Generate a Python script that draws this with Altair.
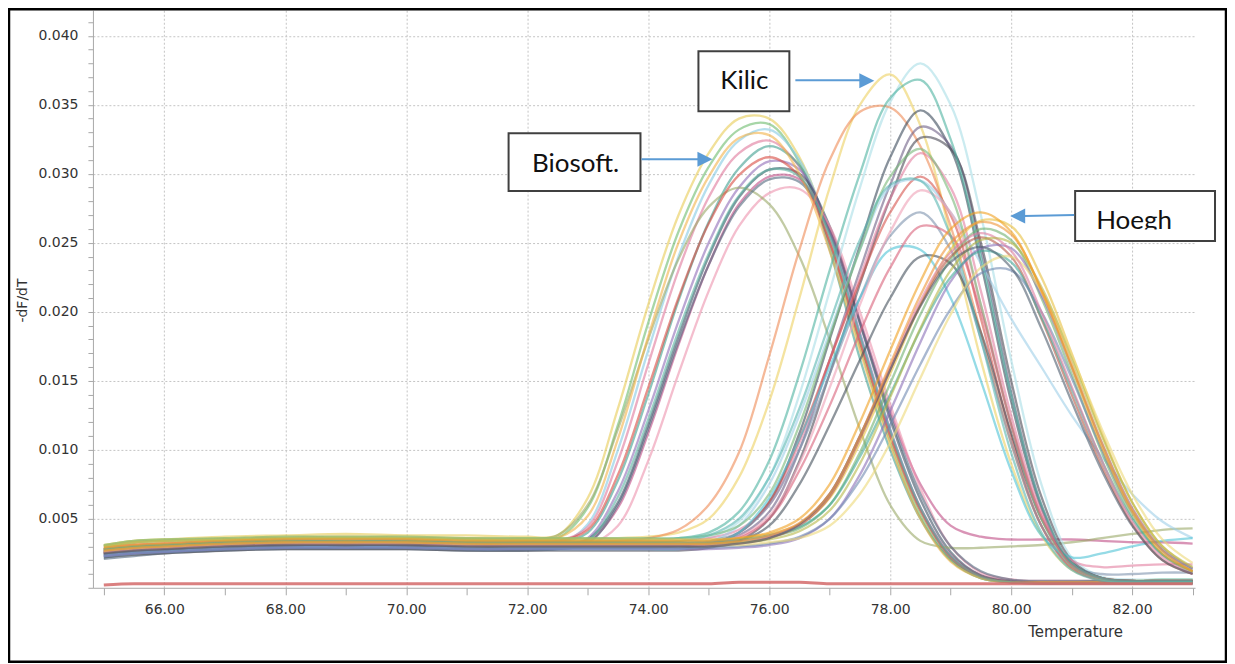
import altair as alt
import pandas as pd

# ---------------- data ----------------
temps = [65.0, 65.5, 66.0, 67.0, 68.0, 69.0, 70.0, 71.0, 72.0,
         72.5, 73.0, 73.5, 74.0, 74.5, 75.0, 75.5, 76.0, 76.5, 77.0, 77.5, 78.0, 78.5, 79.0, 79.5, 80.0,
         80.5, 81.0, 81.5, 82.0, 82.5, 83.0]

x_ticks = [65, 66, 67, 68, 69, 70, 71, 72, 73, 74, 75, 76, 77, 78, 79, 80, 81, 82, 83]
y_ticks = [0.000, 0.001, 0.002, 0.003, 0.004, 0.005, 0.006, 0.007, 0.008, 0.009,
           0.010, 0.011, 0.012, 0.013, 0.014, 0.015, 0.016, 0.017, 0.018, 0.019,
           0.020, 0.021, 0.022, 0.023, 0.024, 0.025, 0.026, 0.027, 0.028, 0.029,
           0.030, 0.031, 0.032, 0.033, 0.034, 0.035, 0.036, 0.037, 0.038, 0.039,
           0.040, 0.041]

# Biosoft. group
biosoft_1 = [0.0031, 0.0034, 0.0035, 0.0037, 0.0038, 0.0039, 0.0038, 0.0038, 0.0037,
             0.0038, 0.0065, 0.0130, 0.0205, 0.0270, 0.0315, 0.0340, 0.0340, 0.0312, 0.0255, 0.0180, 0.0110, 0.0055, 0.0022, 0.0008, 0.0005,
             0.0004, 0.0004, 0.0004, 0.0004, 0.0004, 0.0004]
biosoft_2 = [0.0028, 0.0031, 0.0032, 0.0034, 0.0035, 0.0036, 0.0035, 0.0035, 0.0034,
             0.0036, 0.0058, 0.0118, 0.0192, 0.0258, 0.0305, 0.0332, 0.0336, 0.0308, 0.0250, 0.0175, 0.0106, 0.0052, 0.0020, 0.0007, 0.0004,
             0.0004, 0.0004, 0.0005, 0.0005, 0.0006, 0.0006]
biosoft_3 = [0.0022, 0.0025, 0.0027, 0.0029, 0.0031, 0.0031, 0.0031, 0.0030, 0.0030,
             0.0031, 0.0046, 0.0100, 0.0172, 0.0240, 0.0292, 0.0324, 0.0332, 0.0310, 0.0256, 0.0182, 0.0112, 0.0056, 0.0022, 0.0008, 0.0005,
             0.0004, 0.0004, 0.0004, 0.0004, 0.0004, 0.0004]
biosoft_4 = [0.0027, 0.0030, 0.0031, 0.0033, 0.0034, 0.0034, 0.0034, 0.0033, 0.0033,
             0.0034, 0.0044, 0.0092, 0.0162, 0.0230, 0.0283, 0.0315, 0.0324, 0.0305, 0.0252, 0.0180, 0.0112, 0.0058, 0.0024, 0.0009, 0.0005,
             0.0004, 0.0004, 0.0004, 0.0004, 0.0004, 0.0004]
biosoft_5 = [0.0027, 0.0029, 0.0030, 0.0032, 0.0033, 0.0033, 0.0033, 0.0032, 0.0032,
             0.0033, 0.0040, 0.0078, 0.0140, 0.0208, 0.0265, 0.0304, 0.0320, 0.0306, 0.0245, 0.0166, 0.0100, 0.0050, 0.0020, 0.0007, 0.0004,
             0.0003, 0.0003, 0.0003, 0.0003, 0.0003, 0.0003]
biosoft_6 = [0.0024, 0.0026, 0.0027, 0.0029, 0.0030, 0.0030, 0.0030, 0.0029, 0.0029,
             0.0030, 0.0036, 0.0070, 0.0128, 0.0193, 0.0250, 0.0290, 0.0309, 0.0303, 0.0258, 0.0185, 0.0115, 0.0058, 0.0023, 0.0008, 0.0004,
             0.0003, 0.0003, 0.0003, 0.0003, 0.0003, 0.0003]
biosoft_7 = [0.0026, 0.0028, 0.0029, 0.0031, 0.0032, 0.0032, 0.0032, 0.0031, 0.0031,
             0.0032, 0.0035, 0.0062, 0.0118, 0.0182, 0.0240, 0.0283, 0.0303, 0.0300, 0.0262, 0.0192, 0.0122, 0.0064, 0.0026, 0.0009, 0.0005,
             0.0004, 0.0004, 0.0004, 0.0004, 0.0004, 0.0004]
biosoft_8 = [0.0023, 0.0025, 0.0026, 0.0028, 0.0029, 0.0029, 0.0029, 0.0028, 0.0028,
             0.0029, 0.0033, 0.0058, 0.0112, 0.0176, 0.0234, 0.0278, 0.0298, 0.0296, 0.0260, 0.0194, 0.0128, 0.0075, 0.0045, 0.0037, 0.0035,
             0.0035, 0.0035, 0.0034, 0.0033, 0.0033, 0.0032]
biosoft_9 = [0.0025, 0.0027, 0.0028, 0.0030, 0.0031, 0.0031, 0.0031, 0.0030, 0.0030,
             0.0030, 0.0031, 0.0045, 0.0092, 0.0155, 0.0215, 0.0262, 0.0286, 0.0289, 0.0262, 0.0200, 0.0133, 0.0072, 0.0030, 0.0011, 0.0006,
             0.0005, 0.0005, 0.0005, 0.0005, 0.0005, 0.0005]
biosoft_10 = [0.0030, 0.0033, 0.0034, 0.0035, 0.0036, 0.0036, 0.0036, 0.0035, 0.0035,
              0.0038, 0.0060, 0.0115, 0.0180, 0.0238, 0.0276, 0.0290, 0.0278, 0.0240, 0.0180, 0.0115, 0.0060, 0.0034, 0.0029, 0.0029, 0.0030,
              0.0031, 0.0033, 0.0036, 0.0039, 0.0042, 0.0043]
biosoft_11 = [0.0028, 0.0030, 0.0031, 0.0033, 0.0034, 0.0034, 0.0034, 0.0033, 0.0033,
              0.0034, 0.0042, 0.0082, 0.0145, 0.0210, 0.0264, 0.0299, 0.0312, 0.0298, 0.0250, 0.0178, 0.0110, 0.0056, 0.0022, 0.0008, 0.0004,
              0.0004, 0.0004, 0.0004, 0.0004, 0.0004, 0.0004]
biosoft_12 = [0.0021, 0.0023, 0.0025, 0.0027, 0.0028, 0.0028, 0.0028, 0.0027, 0.0027,
              0.0028, 0.0032, 0.0060, 0.0115, 0.0178, 0.0234, 0.0276, 0.0296, 0.0294, 0.0258, 0.0192, 0.0125, 0.0068, 0.0030, 0.0012, 0.0006,
              0.0005, 0.0005, 0.0005, 0.0005, 0.0005, 0.0005]
biosoft_13 = [0.0029, 0.0032, 0.0033, 0.0035, 0.0036, 0.0037, 0.0036, 0.0036, 0.0035,
              0.0036, 0.0052, 0.0108, 0.0182, 0.0250, 0.0298, 0.0326, 0.0328, 0.0300, 0.0244, 0.0172, 0.0104, 0.0050, 0.0019, 0.0007, 0.0004,
              0.0004, 0.0004, 0.0004, 0.0004, 0.0004, 0.0004]
biosoft_14 = [0.0025, 0.0027, 0.0028, 0.0030, 0.0031, 0.0031, 0.0031, 0.0030, 0.0030,
              0.0030, 0.0034, 0.0066, 0.0122, 0.0186, 0.0242, 0.0284, 0.0303, 0.0298, 0.0255, 0.0183, 0.0114, 0.0058, 0.0023, 0.0008, 0.0004,
              0.0003, 0.0003, 0.0003, 0.0003, 0.0003, 0.0003]

# Kilic group
kilic_1 = [0.0026, 0.0029, 0.0030, 0.0032, 0.0033, 0.0033, 0.0033, 0.0032, 0.0032,
           0.0032, 0.0032, 0.0032, 0.0032, 0.0033, 0.0036, 0.0048, 0.0080, 0.0140, 0.0215, 0.0290, 0.0352, 0.0380, 0.0350, 0.0270, 0.0165,
           0.0075, 0.0022, 0.0008, 0.0006, 0.0006, 0.0006]
kilic_2 = [0.0030, 0.0033, 0.0034, 0.0035, 0.0036, 0.0036, 0.0036, 0.0035, 0.0035,
           0.0035, 0.0035, 0.0035, 0.0035, 0.0036, 0.0040, 0.0055, 0.0092, 0.0155, 0.0230, 0.0300, 0.0355, 0.0368, 0.0325, 0.0240, 0.0140,
           0.0060, 0.0018, 0.0007, 0.0005, 0.0005, 0.0005]
kilic_3 = [0.0031, 0.0034, 0.0035, 0.0036, 0.0037, 0.0037, 0.0037, 0.0036, 0.0036,
           0.0036, 0.0036, 0.0036, 0.0037, 0.0040, 0.0050, 0.0080, 0.0135, 0.0210, 0.0290, 0.0350, 0.0372, 0.0335, 0.0255, 0.0165, 0.0090,
           0.0038, 0.0013, 0.0006, 0.0005, 0.0005, 0.0005]
kilic_4 = [0.0028, 0.0031, 0.0032, 0.0033, 0.0034, 0.0034, 0.0034, 0.0033, 0.0033,
           0.0033, 0.0033, 0.0034, 0.0036, 0.0042, 0.0060, 0.0098, 0.0168, 0.0245, 0.0310, 0.0345, 0.0348, 0.0320, 0.0262, 0.0185, 0.0105,
           0.0045, 0.0015, 0.0007, 0.0005, 0.0005, 0.0005]
kilic_5 = [0.0024, 0.0026, 0.0027, 0.0029, 0.0030, 0.0030, 0.0030, 0.0029, 0.0029,
           0.0029, 0.0029, 0.0029, 0.0029, 0.0030, 0.0032, 0.0040, 0.0062, 0.0112, 0.0180, 0.0248, 0.0312, 0.0346, 0.0318, 0.0235, 0.0135,
           0.0058, 0.0016, 0.0006, 0.0004, 0.0004, 0.0004]
kilic_6 = [0.0026, 0.0028, 0.0029, 0.0031, 0.0032, 0.0032, 0.0032, 0.0031, 0.0031,
           0.0031, 0.0031, 0.0031, 0.0031, 0.0031, 0.0033, 0.0038, 0.0055, 0.0100, 0.0165, 0.0230, 0.0292, 0.0334, 0.0320, 0.0245, 0.0142,
           0.0060, 0.0017, 0.0006, 0.0004, 0.0004, 0.0004]
kilic_7 = [0.0022, 0.0024, 0.0025, 0.0027, 0.0028, 0.0028, 0.0028, 0.0027, 0.0027,
           0.0027, 0.0027, 0.0027, 0.0027, 0.0027, 0.0029, 0.0034, 0.0050, 0.0092, 0.0155, 0.0220, 0.0282, 0.0326, 0.0318, 0.0250, 0.0150,
           0.0066, 0.0020, 0.0007, 0.0005, 0.0005, 0.0005]
kilic_8 = [0.0029, 0.0031, 0.0032, 0.0034, 0.0035, 0.0035, 0.0035, 0.0034, 0.0034,
           0.0034, 0.0034, 0.0034, 0.0034, 0.0034, 0.0036, 0.0042, 0.0060, 0.0105, 0.0165, 0.0225, 0.0282, 0.0315, 0.0290, 0.0215, 0.0125,
           0.0055, 0.0020, 0.0015, 0.0016, 0.0017, 0.0017]
kilic_9 = [0.0025, 0.0027, 0.0028, 0.0030, 0.0031, 0.0031, 0.0031, 0.0030, 0.0030,
           0.0030, 0.0030, 0.0030, 0.0030, 0.0030, 0.0032, 0.0040, 0.0062, 0.0108, 0.0165, 0.0222, 0.0272, 0.0298, 0.0270, 0.0195, 0.0110,
           0.0045, 0.0014, 0.0005, 0.0004, 0.0004, 0.0004]
kilic_10 = [0.0024, 0.0026, 0.0027, 0.0029, 0.0030, 0.0030, 0.0030, 0.0029, 0.0029,
            0.0029, 0.0029, 0.0029, 0.0029, 0.0029, 0.0033, 0.0045, 0.0075, 0.0125, 0.0185, 0.0245, 0.0290, 0.0295, 0.0272, 0.0235, 0.0195,
            0.0160, 0.0125, 0.0095, 0.0068, 0.0048, 0.0036]
kilic_11 = [0.0027, 0.0029, 0.0030, 0.0032, 0.0033, 0.0033, 0.0033, 0.0032, 0.0032,
            0.0032, 0.0032, 0.0032, 0.0032, 0.0032, 0.0034, 0.0040, 0.0060, 0.0100, 0.0155, 0.0210, 0.0255, 0.0272, 0.0245, 0.0180, 0.0105,
            0.0045, 0.0016, 0.0010, 0.0010, 0.0011, 0.0011]
kilic_12 = [0.0023, 0.0025, 0.0026, 0.0028, 0.0029, 0.0029, 0.0029, 0.0028, 0.0028,
            0.0028, 0.0028, 0.0028, 0.0028, 0.0028, 0.0031, 0.0040, 0.0065, 0.0108, 0.0160, 0.0210, 0.0245, 0.0245, 0.0210, 0.0150, 0.0085,
            0.0038, 0.0022, 0.0025, 0.0030, 0.0034, 0.0036]
kilic_13 = [0.0025, 0.0027, 0.0028, 0.0030, 0.0031, 0.0031, 0.0031, 0.0030, 0.0030,
            0.0030, 0.0030, 0.0030, 0.0030, 0.0030, 0.0031, 0.0034, 0.0045, 0.0075, 0.0118, 0.0165, 0.0210, 0.0240, 0.0235, 0.0185, 0.0112,
            0.0050, 0.0018, 0.0007, 0.0005, 0.0005, 0.0005]
kilic_14 = [0.0027, 0.0029, 0.0030, 0.0032, 0.0033, 0.0033, 0.0033, 0.0032, 0.0032,
            0.0032, 0.0032, 0.0032, 0.0032, 0.0032, 0.0033, 0.0037, 0.0052, 0.0090, 0.0145, 0.0205, 0.0258, 0.0288, 0.0272, 0.0205, 0.0120,
            0.0052, 0.0016, 0.0006, 0.0004, 0.0004, 0.0004]
kilic_15 = [0.0031, 0.0034, 0.0035, 0.0036, 0.0037, 0.0037, 0.0037, 0.0036, 0.0036,
            0.0036, 0.0036, 0.0036, 0.0036, 0.0036, 0.0038, 0.0045, 0.0068, 0.0118, 0.0182, 0.0245, 0.0298, 0.0318, 0.0285, 0.0205, 0.0118,
            0.0050, 0.0016, 0.0006, 0.0004, 0.0004, 0.0004]
kilic_16 = [0.0026, 0.0028, 0.0029, 0.0031, 0.0032, 0.0032, 0.0032, 0.0031, 0.0031,
            0.0031, 0.0031, 0.0031, 0.0031, 0.0031, 0.0032, 0.0036, 0.0050, 0.0085, 0.0132, 0.0185, 0.0232, 0.0262, 0.0255, 0.0200, 0.0118,
            0.0052, 0.0017, 0.0007, 0.0005, 0.0005, 0.0005]
kilic_17 = [0.0028, 0.0030, 0.0031, 0.0033, 0.0034, 0.0034, 0.0034, 0.0033, 0.0033,
            0.0033, 0.0033, 0.0033, 0.0033, 0.0034, 0.0038, 0.0050, 0.0080, 0.0130, 0.0192, 0.0252, 0.0292, 0.0295, 0.0255, 0.0180, 0.0098,
            0.0040, 0.0013, 0.0005, 0.0004, 0.0004, 0.0004]

# Hoegh group
hoegh_1 = [0.0029, 0.0031, 0.0032, 0.0034, 0.0035, 0.0035, 0.0035, 0.0034, 0.0034,
           0.0034, 0.0034, 0.0034, 0.0034, 0.0034, 0.0034, 0.0036, 0.0040, 0.0050, 0.0075, 0.0120, 0.0172, 0.0222, 0.0260, 0.0272, 0.0258,
           0.0215, 0.0160, 0.0102, 0.0055, 0.0025, 0.0012]
hoegh_2 = [0.0030, 0.0033, 0.0034, 0.0035, 0.0036, 0.0036, 0.0036, 0.0035, 0.0035,
           0.0035, 0.0035, 0.0035, 0.0035, 0.0035, 0.0035, 0.0036, 0.0039, 0.0046, 0.0065, 0.0105, 0.0155, 0.0205, 0.0245, 0.0266, 0.0262,
           0.0225, 0.0170, 0.0112, 0.0062, 0.0030, 0.0014]
hoegh_3 = [0.0027, 0.0029, 0.0030, 0.0032, 0.0033, 0.0033, 0.0033, 0.0032, 0.0032,
           0.0032, 0.0032, 0.0032, 0.0032, 0.0032, 0.0032, 0.0034, 0.0037, 0.0043, 0.0060, 0.0098, 0.0148, 0.0198, 0.0238, 0.0260, 0.0252,
           0.0210, 0.0155, 0.0098, 0.0052, 0.0024, 0.0011]
hoegh_4 = [0.0025, 0.0027, 0.0028, 0.0030, 0.0031, 0.0031, 0.0031, 0.0030, 0.0030,
           0.0030, 0.0030, 0.0030, 0.0030, 0.0030, 0.0030, 0.0032, 0.0036, 0.0045, 0.0066, 0.0108, 0.0158, 0.0205, 0.0240, 0.0254, 0.0240,
           0.0195, 0.0140, 0.0088, 0.0046, 0.0020, 0.0010]
hoegh_5 = [0.0023, 0.0025, 0.0026, 0.0028, 0.0029, 0.0029, 0.0029, 0.0028, 0.0028,
           0.0028, 0.0028, 0.0028, 0.0028, 0.0028, 0.0028, 0.0029, 0.0031, 0.0036, 0.0050, 0.0082, 0.0128, 0.0178, 0.0222, 0.0246, 0.0246,
           0.0212, 0.0160, 0.0105, 0.0058, 0.0028, 0.0014]
hoegh_6 = [0.0028, 0.0030, 0.0031, 0.0033, 0.0034, 0.0034, 0.0034, 0.0033, 0.0033,
           0.0033, 0.0033, 0.0033, 0.0033, 0.0033, 0.0033, 0.0035, 0.0038, 0.0044, 0.0060, 0.0095, 0.0140, 0.0187, 0.0225, 0.0244, 0.0236,
           0.0196, 0.0144, 0.0092, 0.0050, 0.0024, 0.0012]
hoegh_7 = [0.0024, 0.0026, 0.0027, 0.0029, 0.0030, 0.0030, 0.0030, 0.0029, 0.0029,
           0.0029, 0.0029, 0.0029, 0.0029, 0.0029, 0.0029, 0.0030, 0.0032, 0.0037, 0.0050, 0.0078, 0.0118, 0.0162, 0.0202, 0.0228, 0.0230,
           0.0200, 0.0152, 0.0100, 0.0055, 0.0027, 0.0013]
hoegh_8 = [0.0026, 0.0028, 0.0029, 0.0031, 0.0032, 0.0032, 0.0032, 0.0031, 0.0031,
           0.0031, 0.0031, 0.0031, 0.0031, 0.0031, 0.0031, 0.0031, 0.0033, 0.0036, 0.0045, 0.0068, 0.0105, 0.0152, 0.0198, 0.0232, 0.0240,
           0.0215, 0.0168, 0.0115, 0.0068, 0.0035, 0.0018]
hoegh_9 = [0.0026, 0.0028, 0.0029, 0.0031, 0.0032, 0.0032, 0.0032, 0.0031, 0.0031,
           0.0031, 0.0031, 0.0031, 0.0031, 0.0031, 0.0031, 0.0033, 0.0037, 0.0046, 0.0068, 0.0110, 0.0160, 0.0208, 0.0243, 0.0257, 0.0244,
           0.0200, 0.0146, 0.0092, 0.0048, 0.0022, 0.0010]
hoegh_10 = [0.0027, 0.0029, 0.0030, 0.0032, 0.0033, 0.0033, 0.0033, 0.0032, 0.0032,
            0.0032, 0.0032, 0.0032, 0.0032, 0.0032, 0.0032, 0.0034, 0.0038, 0.0047, 0.0068, 0.0110, 0.0162, 0.0212, 0.0250, 0.0265, 0.0256,
            0.0216, 0.0162, 0.0105, 0.0057, 0.0027, 0.0012]
hoegh_11 = [0.0027, 0.0029, 0.0030, 0.0032, 0.0033, 0.0033, 0.0033, 0.0032, 0.0032,
            0.0032, 0.0032, 0.0032, 0.0032, 0.0032, 0.0032, 0.0033, 0.0035, 0.0041, 0.0056, 0.0090, 0.0138, 0.0188, 0.0230, 0.0252, 0.0250,
            0.0218, 0.0166, 0.0110, 0.0062, 0.0030, 0.0015]
hoegh_12 = [0.0025, 0.0027, 0.0028, 0.0030, 0.0031, 0.0031, 0.0031, 0.0030, 0.0030,
            0.0030, 0.0030, 0.0030, 0.0030, 0.0030, 0.0030, 0.0032, 0.0036, 0.0046, 0.0068, 0.0110, 0.0158, 0.0204, 0.0236, 0.0247, 0.0232,
            0.0188, 0.0135, 0.0085, 0.0045, 0.0020, 0.0010]

# negative control (flat)
control = [0.0002, 0.0003, 0.0003, 0.0003, 0.0003, 0.0003, 0.0003, 0.0003, 0.0003,
           0.0003, 0.0003, 0.0003, 0.0003, 0.0003, 0.0003, 0.0004, 0.0004, 0.0004, 0.0003, 0.0003, 0.0003, 0.0003, 0.0003, 0.0003, 0.0003,
           0.0003, 0.0003, 0.0003, 0.0003, 0.0003, 0.0003]

annotation_labels = ["Kilic", "Biosoft.", "Hoegh"]

# ---------------- assemble ----------------
curves = {
    "Biosoft 1": biosoft_1, "Biosoft 2": biosoft_2, "Biosoft 3": biosoft_3, "Biosoft 4": biosoft_4,
    "Biosoft 5": biosoft_5, "Biosoft 6": biosoft_6, "Biosoft 7": biosoft_7, "Biosoft 8": biosoft_8,
    "Biosoft 9": biosoft_9, "Biosoft 10": biosoft_10, "Biosoft 11": biosoft_11, "Biosoft 12": biosoft_12,
    "Biosoft 13": biosoft_13, "Biosoft 14": biosoft_14,
    "Kilic 1": kilic_1, "Kilic 3": kilic_3, "Kilic 4": kilic_4, "Kilic 5": kilic_5, "Kilic 6": kilic_6,
    "Kilic 7": kilic_7, "Kilic 8": kilic_8, "Kilic 9": kilic_9, "Kilic 10": kilic_10, "Kilic 11": kilic_11,
    "Kilic 12": kilic_12, "Kilic 13": kilic_13, "Kilic 14": kilic_14, "Kilic 15": kilic_15,
    "Kilic 16": kilic_16, "Kilic 17": kilic_17, "Kilic 2": kilic_2,
    "Hoegh 2": hoegh_2, "Hoegh 3": hoegh_3, "Hoegh 4": hoegh_4, "Hoegh 5": hoegh_5, "Hoegh 6": hoegh_6,
    "Hoegh 7": hoegh_7, "Hoegh 8": hoegh_8, "Hoegh 9": hoegh_9, "Hoegh 11": hoegh_11, "Hoegh 12": hoegh_12,
    "Hoegh 10": hoegh_10, "Hoegh 1": hoegh_1,
}

palette = {
    "Biosoft 1": "#e8cc55", "Biosoft 2": "#6dbb6d", "Biosoft 3": "#86c9e3", "Biosoft 4": "#e0789b",
    "Biosoft 5": "#3f9e8f", "Biosoft 6": "#8f6db8", "Biosoft 7": "#3e5064", "Biosoft 8": "#c04d85",
    "Biosoft 9": "#ec93ad", "Biosoft 10": "#9aa868", "Biosoft 11": "#d84a40", "Biosoft 12": "#52677d",
    "Biosoft 13": "#f2b24a", "Biosoft 14": "#5ab0a0",
    "Kilic 1": "#a8dde6", "Kilic 2": "#4db3a0", "Kilic 3": "#ecd060", "Kilic 4": "#ef8a55",
    "Kilic 5": "#3b4a5a", "Kilic 6": "#6e5f86", "Kilic 7": "#4a4a55", "Kilic 8": "#e27fa0",
    "Kilic 9": "#d6534c", "Kilic 10": "#9fcfe8", "Kilic 11": "#7d93ad", "Kilic 12": "#4ec3d6",
    "Kilic 13": "#44505c", "Kilic 14": "#eea0b5", "Kilic 15": "#78b878", "Kilic 16": "#d9607a",
    "Kilic 17": "#58b5b0",
    "Hoegh 1": "#f0a020", "Hoegh 2": "#e8c040", "Hoegh 3": "#70b070", "Hoegh 4": "#b85a48",
    "Hoegh 5": "#8a70b8", "Hoegh 6": "#45a89a", "Hoegh 7": "#6f88b0", "Hoegh 8": "#ecd878",
    "Hoegh 9": "#e07fa0", "Hoegh 10": "#ee9438", "Hoegh 11": "#b5b848", "Hoegh 12": "#4f5d6e",
}
line_widths = {"Kilic 2": 3.6, "Kilic 1": 3.0, "Hoegh 1": 3.2, "Hoegh 10": 2.8}

names = list(curves)
rows = []
for name, vals in curves.items():
    for t, v in zip(temps, vals):
        rows.append({"series": name, "temperature": t, "dfdt": v})
df = pd.DataFrame(rows)
ctrl_df = pd.DataFrame({"temperature": temps, "dfdt": control})

x_scale = alt.Scale(domain=[64.82, 83.04], nice=False, zero=False)
y_scale = alt.Scale(domain=[0, 0.04185], nice=False, zero=True)

x_axis = alt.Axis(
    values=x_ticks, tickCount=40,
    labelExpr="datum.value % 2 == 0 ? format(datum.value, '.2f') : ''",
    labelOverlap=False,
    gridOpacity={"condition": {"test": "datum.value % 2 != 0", "value": 0}, "value": 1},
    tickSize=7, labelPadding=8,
    title="Temperature", titleX=983, titleY=49, titleAlign="center", titleBaseline="alphabetic",
    titleFontWeight="normal", titleFontSize=15,
)
y_axis = alt.Axis(
    values=y_ticks, tickCount=100,
    labelExpr="(round(datum.value * 1000) % 5 == 0 && datum.value > 0.0025) ? format(datum.value, '.3f') : ''",
    labelOverlap=False,
    gridOpacity={"condition": {"test": "round(datum.value * 1000) % 5 != 0 || datum.value < 0.0025", "value": 0}, "value": 1},
    tickSize=5, labelPadding=10,
    title="-dF/dT", titleX=-66, titleY=290, titleAngle=270, titleAlign="center", titleBaseline="alphabetic",
    titleFontWeight="normal", titleFontSize=14,
)

lines = alt.Chart(df).mark_line(interpolate="catmull-rom", opacity=0.6).encode(
    x=alt.X("temperature:Q", scale=x_scale, axis=x_axis),
    y=alt.Y("dfdt:Q", scale=y_scale, axis=y_axis),
    color=alt.Color("series:N", scale=alt.Scale(domain=names, range=[palette[n] for n in names]), legend=None),
    strokeWidth=alt.StrokeWidth("series:N",
                                scale=alt.Scale(domain=names, range=[line_widths.get(n, 2.3) for n in names]),
                                legend=None),
)

ctrl = alt.Chart(ctrl_df).mark_line(interpolate="monotone", color="#d46a6a", strokeWidth=3, opacity=0.85).encode(
    x=alt.X("temperature:Q", scale=x_scale),
    y=alt.Y("dfdt:Q", scale=y_scale),
)


def single():
    return alt.Data(values=[{"k": 0}])


def box(x1, x2, y1, y2):
    return alt.Chart(single()).mark_rect(fill="white", stroke="#404040", strokeWidth=2).encode(
        x=alt.value(x1), x2=alt.value(x2), y=alt.value(y1), y2=alt.value(y2))


def label(txt, x, y):
    return alt.Chart(single()).mark_text(text=txt, font="Lato", fontSize=26, align="center",
                                         baseline="alphabetic", color="#111111").encode(
        x=alt.value(x), y=alt.value(y))


def shaft(x1, x2, y1, y2):
    return alt.Chart(single()).mark_rule(color="#5b9bd5", strokeWidth=2).encode(
        x=alt.value(x1), x2=alt.value(x2), y=alt.value(y1), y2=alt.value(y2))


def head(x, y, right=True):
    path = "M-1,-1L1,0L-1,1Z" if right else "M1,-1L-1,0L1,1Z"
    return alt.Chart(single()).mark_point(shape=path, size=225, filled=True, color="#5b9bd5", opacity=1).encode(
        x=alt.value(x), y=alt.value(y))


frame = alt.Chart(single()).mark_rect(fillOpacity=0, stroke="black", strokeWidth=2.5).encode(
    x=alt.value(-84), x2=alt.value(1134), y=alt.value(-1), y2=alt.value(652))

hoegh_cover = alt.Chart(single()).mark_rect(fill="white").encode(
    x=alt.value(985), x2=alt.value(1121), y=alt.value(219.5), y2=alt.value(229.2))

chart = alt.layer(
    lines, ctrl,
    box(606, 697, 41, 101), label(annotation_labels[0], 652, 79),
    shaft(703, 769, 70, 70), head(774.5, 70.5, True),
    box(416, 548, 123, 181), label(annotation_labels[1], 483, 162),
    shaft(549, 607, 149, 149), head(612.5, 149, True),
    box(983, 1123, 181, 231), label(annotation_labels[2], 1042, 218.5), hoegh_cover,
    shaft(982, 932, 205, 206), head(925.5, 206, False),
    frame,
).properties(
    width=1103, height=578,
    padding={"left": 85, "top": 2, "right": 32, "bottom": 76},
    autosize=alt.AutoSizeParams(type="none"),
).configure_view(
    strokeWidth=0
).configure_axis(
    labelFont="DejaVu Sans", labelFontSize=14, labelColor="#333333",
    titleFont="DejaVu Sans", titleColor="#333333",
    domainColor="#a8a8a8", tickColor="#a8a8a8",
    gridColor="#c4c4c4", gridDash=[2, 2], gridWidth=1,
)

chart.save("out.html", embed_options={"renderer": "svg", "actions": False})
